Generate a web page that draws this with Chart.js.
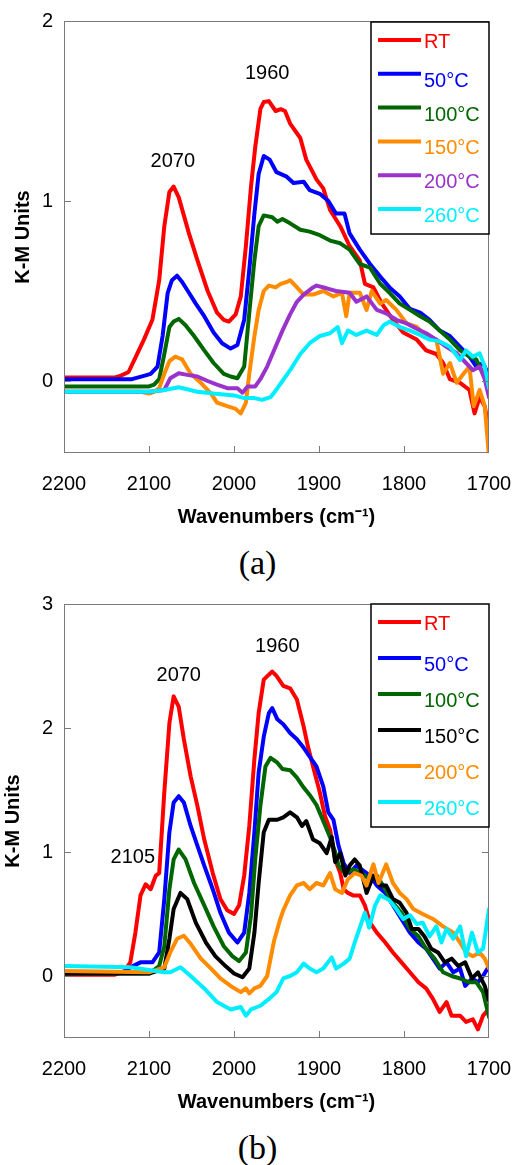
<!DOCTYPE html>
<html>
<head>
<meta charset="utf-8">
<title>K-M spectra</title>
<script src="https://cdn.jsdelivr.net/npm/chart.js@4.4.0/dist/chart.umd.min.js"></script>
<style>
  body { margin: 0; background: #fff; width: 515px; height: 1165px; position: relative; overflow: hidden; }
  .panel { position: absolute; left: 0; width: 515px; height: 540px; }
  .caption {
    position: absolute; left: 0; width: 515px; text-align: center;
    font-family: 'Liberation Serif', 'Times New Roman', serif; font-size: 34px; line-height: 40px; color: #000;
  }
</style>
</head>
<body>
<div class="panel" style="top:0"><canvas id="chartA" width="515" height="540"></canvas></div>
<div class="caption" style="top:543px">(a)</div>
<div class="panel" style="top:585px"><canvas id="chartB" width="515" height="540"></canvas></div>
<div class="caption" style="top:1128px">(b)</div>

<script>
/* ===============================
   DATA  ([wavenumber, K-M value])
================================= */
const xTicks = [2200, 2100, 2000, 1900, 1800, 1700];
const yTicksA = [0, 1, 2];
const yTicksB = [0, 1, 2, 3];

const labelsA = ['RT', '50°C', '100°C', '150°C', '200°C', '260°C'];
const labelsB = ['RT', '50°C', '100°C', '150°C', '200°C', '260°C'];

// panel (a)
const rtA = [[2200,0.02],[2160,0.02],[2140,0.02],[2133,0.03],[2124,0.05],[2116,0.13],[2106,0.23],[2096,0.34],[2088,0.56],[2082,0.86],[2076,1.05],[2071,1.08],[2065,1.02],[2053,0.82],[2043,0.67],[2031,0.50],[2020,0.38],[2012,0.34],[2006,0.33],[1998,0.37],[1992,0.47],[1986,0.75],[1980,1.08],[1975,1.30],[1969,1.51],[1965,1.55],[1959,1.555],[1951,1.50],[1945,1.51],[1940,1.50],[1934,1.43],[1922,1.35],[1915,1.23],[1903,1.12],[1895,1.07],[1887,0.95],[1875,0.86],[1864,0.75],[1852,0.67],[1846,0.54],[1836,0.52],[1826,0.43],[1813,0.34],[1801,0.27],[1785,0.23],[1774,0.17],[1762,0.15],[1754,0.10],[1746,0.01],[1734,-0.01],[1723,-0.05],[1717,-0.18],[1711,-0.09],[1705,-0.14],[1700,-0.27]];
const c50A = [[2200,0.01],[2120,0.01],[2105,0.03],[2098,0.04],[2090,0.08],[2084,0.25],[2078,0.49],[2073,0.56],[2067,0.585],[2061,0.55],[2053,0.49],[2045,0.43],[2035,0.36],[2024,0.27],[2014,0.21],[2004,0.18],[1996,0.20],[1988,0.34],[1982,0.62],[1976,0.93],[1971,1.15],[1965,1.25],[1958,1.23],[1950,1.16],[1938,1.135],[1930,1.10],[1918,1.107],[1911,1.06],[1899,1.04],[1889,1.00],[1880,0.93],[1870,0.93],[1864,0.82],[1852,0.73],[1840,0.65],[1828,0.58],[1817,0.52],[1805,0.47],[1793,0.40],[1781,0.38],[1770,0.34],[1758,0.28],[1746,0.25],[1734,0.19],[1723,0.135],[1715,0.08],[1707,0.10],[1700,0.03]];
const c100A = [[2200,-0.03],[2100,-0.03],[2094,-0.02],[2088,0.01],[2082,0.15],[2076,0.30],[2071,0.33],[2065,0.345],[2057,0.31],[2047,0.25],[2035,0.17],[2024,0.10],[2012,0.04],[2004,0.025],[1996,0.015],[1988,0.08],[1982,0.38],[1976,0.67],[1971,0.86],[1965,0.92],[1955,0.91],[1949,0.885],[1943,0.90],[1934,0.876],[1922,0.84],[1911,0.83],[1899,0.81],[1887,0.78],[1875,0.765],[1864,0.73],[1852,0.65],[1840,0.63],[1828,0.54],[1817,0.49],[1805,0.43],[1793,0.395],[1781,0.36],[1770,0.33],[1758,0.28],[1746,0.23],[1734,0.17],[1723,0.135],[1715,0.12],[1707,0.04],[1700,0.03]];
const c150A = [[2200,-0.06],[2110,-0.06],[2100,-0.07],[2094,-0.06],[2088,-0.04],[2082,0.04],[2076,0.11],[2069,0.135],[2061,0.12],[2051,0.04],[2039,-0.01],[2027,-0.07],[2020,-0.12],[2008,-0.14],[1998,-0.155],[1992,-0.18],[1986,-0.12],[1982,0.04],[1976,0.25],[1971,0.395],[1965,0.50],[1959,0.53],[1951,0.52],[1945,0.54],[1938,0.55],[1934,0.56],[1926,0.52],[1918,0.48],[1907,0.48],[1895,0.50],[1883,0.47],[1873,0.49],[1868,0.36],[1864,0.49],[1852,0.49],[1844,0.395],[1838,0.50],[1828,0.43],[1821,0.45],[1809,0.395],[1797,0.32],[1785,0.30],[1774,0.25],[1762,0.23],[1754,0.04],[1746,0.10],[1738,-0.01],[1730,0.04],[1723,0.08],[1718,-0.14],[1711,-0.05],[1705,-0.14],[1700,-0.42]];
const c200A = [[2200,-0.06],[2100,-0.06],[2082,-0.05],[2075,0.015],[2065,0.043],[2055,0.034],[2043,0.025],[2031,0.0],[2020,-0.02],[2008,-0.04],[1996,-0.04],[1990,-0.065],[1984,-0.03],[1975,-0.03],[1969,0.01],[1961,0.08],[1953,0.17],[1943,0.28],[1934,0.37],[1926,0.44],[1918,0.48],[1907,0.52],[1903,0.53],[1891,0.515],[1880,0.50],[1864,0.49],[1856,0.44],[1844,0.47],[1832,0.395],[1821,0.376],[1809,0.34],[1797,0.32],[1785,0.29],[1774,0.265],[1762,0.23],[1750,0.19],[1738,0.154],[1727,0.10],[1719,0.06],[1711,0.08],[1705,0.01],[1700,-0.09]];
const c260A = [[2200,-0.06],[2100,-0.06],[2082,-0.05],[2065,-0.035],[2043,-0.06],[2024,-0.07],[2000,-0.08],[1988,-0.095],[1976,-0.095],[1967,-0.105],[1957,-0.09],[1949,-0.04],[1943,0.0],[1934,0.06],[1922,0.15],[1911,0.21],[1899,0.25],[1887,0.265],[1878,0.30],[1873,0.21],[1866,0.28],[1856,0.256],[1844,0.28],[1832,0.256],[1824,0.31],[1817,0.33],[1805,0.30],[1793,0.28],[1781,0.256],[1770,0.23],[1758,0.22],[1746,0.19],[1734,0.117],[1727,0.17],[1719,0.135],[1711,0.154],[1705,0.08],[1700,-0.04]];

// panel (b)
const rtB = [[2200,0.01],[2140,0.01],[2129,0.04],[2122,0.11],[2116,0.35],[2110,0.65],[2104,0.74],[2098,0.70],[2092,0.81],[2088,0.83],[2082,1.48],[2076,2.04],[2071,2.255],[2065,2.17],[2059,1.91],[2051,1.61],[2043,1.37],[2035,1.10],[2025,0.83],[2016,0.62],[2008,0.53],[2000,0.50],[1994,0.57],[1988,0.81],[1982,1.21],[1976,1.75],[1971,2.12],[1965,2.39],[1959,2.43],[1955,2.455],[1950,2.42],[1942,2.34],[1934,2.32],[1926,2.23],[1918,2.01],[1913,1.85],[1907,1.69],[1899,1.48],[1893,1.29],[1887,1.18],[1881,0.94],[1875,0.83],[1871,0.70],[1866,0.67],[1860,0.65],[1852,0.65],[1846,0.57],[1840,0.43],[1832,0.35],[1822,0.27],[1813,0.19],[1803,0.11],[1793,0.03],[1783,-0.05],[1774,-0.10],[1766,-0.185],[1758,-0.29],[1750,-0.21],[1744,-0.32],[1734,-0.32],[1727,-0.37],[1719,-0.35],[1713,-0.43],[1707,-0.32],[1700,-0.265]];
const c50B = [[2200,0.03],[2130,0.03],[2122,0.07],[2110,0.11],[2096,0.11],[2088,0.19],[2082,0.62],[2076,1.16],[2071,1.40],[2065,1.45],[2059,1.40],[2051,1.21],[2043,1.05],[2035,0.89],[2025,0.70],[2016,0.51],[2006,0.35],[1996,0.27],[1988,0.35],[1982,0.67],[1976,1.16],[1971,1.64],[1965,1.93],[1959,2.12],[1955,2.16],[1949,2.07],[1942,2.03],[1934,1.96],[1926,1.91],[1918,1.84],[1911,1.77],[1903,1.69],[1895,1.53],[1889,1.32],[1883,1.26],[1877,1.05],[1871,0.91],[1864,0.83],[1856,0.89],[1848,0.85],[1840,0.81],[1832,0.73],[1822,0.67],[1813,0.57],[1803,0.46],[1793,0.35],[1783,0.27],[1774,0.22],[1766,0.14],[1758,0.06],[1750,0.11],[1742,0.03],[1734,0.06],[1728,-0.08],[1720,-0.02],[1713,-0.05],[1707,0.0],[1700,0.08]];
const c100B = [[2200,0.02],[2100,0.02],[2088,0.08],[2082,0.24],[2076,0.70],[2071,0.94],[2065,1.02],[2057,0.94],[2047,0.75],[2035,0.57],[2024,0.40],[2012,0.24],[2002,0.16],[1994,0.12],[1986,0.19],[1980,0.49],[1975,0.94],[1969,1.37],[1963,1.69],[1957,1.76],[1949,1.72],[1943,1.67],[1934,1.66],[1926,1.60],[1918,1.52],[1911,1.46],[1903,1.38],[1895,1.25],[1887,1.12],[1881,1.0],[1877,0.89],[1869,0.83],[1860,0.86],[1850,0.83],[1840,0.78],[1832,0.81],[1822,0.70],[1813,0.59],[1803,0.51],[1793,0.38],[1783,0.32],[1774,0.22],[1764,0.14],[1754,0.03],[1744,0.0],[1734,-0.02],[1724,-0.05],[1715,-0.05],[1707,-0.13],[1700,-0.33]];
const c150B = [[2200,0.02],[2100,0.02],[2082,0.06],[2076,0.30],[2071,0.54],[2063,0.67],[2055,0.62],[2045,0.43],[2033,0.27],[2022,0.16],[2010,0.08],[2000,0.02],[1990,-0.01],[1982,0.06],[1976,0.35],[1971,0.75],[1965,1.16],[1959,1.26],[1949,1.26],[1942,1.28],[1934,1.32],[1926,1.28],[1920,1.21],[1915,1.25],[1907,1.10],[1899,1.07],[1891,0.99],[1885,1.12],[1881,0.92],[1875,0.99],[1869,0.81],[1864,0.89],[1858,0.94],[1852,0.89],[1844,0.67],[1836,0.81],[1828,0.73],[1821,0.73],[1813,0.62],[1805,0.59],[1797,0.51],[1791,0.38],[1783,0.38],[1776,0.32],[1768,0.22],[1760,0.19],[1752,0.11],[1744,0.14],[1736,0.08],[1728,0.11],[1720,-0.02],[1713,0.03],[1705,-0.08],[1700,-0.2]];
const c200B = [[2200,0.04],[2100,0.03],[2082,0.07],[2075,0.19],[2067,0.30],[2059,0.325],[2051,0.26],[2039,0.14],[2027,0.06],[2016,-0.02],[2004,-0.08],[1992,-0.13],[1986,-0.10],[1982,-0.14],[1976,-0.10],[1969,-0.08],[1961,0.0],[1953,0.28],[1946,0.45],[1942,0.53],[1934,0.65],[1926,0.73],[1918,0.75],[1911,0.70],[1903,0.75],[1895,0.73],[1887,0.83],[1881,0.70],[1873,0.67],[1866,0.78],[1858,0.83],[1850,0.81],[1844,0.73],[1836,0.90],[1830,0.75],[1821,0.90],[1813,0.75],[1805,0.67],[1797,0.62],[1789,0.54],[1778,0.50],[1766,0.46],[1754,0.40],[1742,0.35],[1734,0.27],[1727,0.19],[1719,0.16],[1711,0.19],[1705,0.14],[1700,0.06]];
const c260B = [[2200,0.08],[2122,0.07],[2082,0.03],[2075,0.03],[2063,0.07],[2051,0.0],[2035,-0.10],[2020,-0.21],[2004,-0.27],[1992,-0.25],[1986,-0.32],[1980,-0.27],[1969,-0.24],[1958,-0.18],[1950,-0.13],[1942,-0.02],[1934,0.0],[1926,0.03],[1918,0.10],[1911,0.06],[1903,0.03],[1895,0.06],[1885,0.15],[1880,0.06],[1871,0.10],[1864,0.14],[1858,0.27],[1850,0.43],[1846,0.51],[1841,0.39],[1834,0.57],[1828,0.65],[1822,0.63],[1817,0.61],[1809,0.54],[1801,0.46],[1793,0.49],[1785,0.42],[1778,0.43],[1770,0.32],[1762,0.40],[1756,0.27],[1750,0.38],[1742,0.30],[1734,0.40],[1727,0.16],[1720,0.35],[1713,0.19],[1707,0.22],[1700,0.54]];

// peak labels: [text, wavenumber, value]
const peaksA = [['2070', 2072, 1.22], ['1960', 1961, 1.71]];
const peaksB = [['2070', 2065, 2.42], ['1960', 1949, 2.655], ['2105', 2119, 0.957]];

/* ===============================
   STYLE
================================= */
const FONT = "'Liberation Sans', Arial, sans-serif";
const colorsA = ['#ff0000', '#0000ff', '#006600', '#ff8c00', '#9933cc', '#00eeff'];
const colorsB = ['#ff0000', '#0000ff', '#006600', '#000000', '#ff8c00', '#00eeff'];

/* ===============================
   FRAME, INWARD TICKS, LEGEND, PEAK LABELS
================================= */
const panelExtras = {
    id: 'panelExtras',
    afterDatasetsDraw(chart, args, opts) {
        const ctx = chart.ctx;
        const { left, right, top, bottom } = chart.chartArea;
        const x = chart.scales.x;
        const y = chart.scales.y;

        ctx.save();
        ctx.strokeStyle = '#7a7a7a';
        ctx.lineWidth = 1;
        ctx.strokeRect(left + 0.5, top + 0.5, right - left - 1, bottom - top - 1);

        ctx.beginPath();
        y.ticks.forEach(t => {
            const py = Math.round(y.getPixelForValue(t.value)) + 0.5;
            if (py < top + 2 || py > bottom - 2) return;
            ctx.moveTo(left, py); ctx.lineTo(left + 7, py);
            ctx.moveTo(right, py); ctx.lineTo(right - 7, py);
        });
        x.ticks.forEach(t => {
            const px = Math.round(x.getPixelForValue(t.value)) + 0.5;
            if (px < left + 2 || px > right - 2) return;
            ctx.moveTo(px, bottom); ctx.lineTo(px, bottom - 7);
        });
        ctx.stroke();

        // peak labels
        ctx.fillStyle = '#000';
        ctx.font = '20px ' + FONT;
        ctx.textAlign = 'center';
        ctx.textBaseline = 'middle';
        opts.peaks.forEach(([text, wn, v]) => {
            ctx.fillText(text, x.getPixelForValue(wn), y.getPixelForValue(v));
        });

        // legend box
        const bw = 118;
        const bx = right - bw;
        const by = top + opts.legendOffset;
        const bh = opts.legendHeight;
        ctx.fillStyle = '#fff';
        ctx.fillRect(bx, by, bw, bh);
        ctx.strokeStyle = '#000';
        ctx.lineWidth = 1.5;
        ctx.strokeRect(bx, by, bw, bh);

        const step = (bh - 43) / 5;
        ctx.textAlign = 'left';
        ctx.textBaseline = 'alphabetic';
        chart.data.datasets.forEach((ds, i) => {
            const ly = by + 18 + i * step;
            ctx.strokeStyle = ds.borderColor;
            ctx.lineWidth = 4;
            ctx.beginPath();
            ctx.moveTo(bx + 7, ly);
            ctx.lineTo(bx + 50, ly);
            ctx.stroke();
            ctx.fillStyle = ds.borderColor;
            ctx.fillText(ds.label, bx + 53, ly + (ds.label.includes('°') ? 13 : 8));
        });
        ctx.restore();
    }
};

/* ===============================
   CHART BUILDER
================================= */
function makeChart(canvasId, series, labels, colors, yMin, yMax, yTicks, opts) {
    const datasets = series.map((pts, i) => ({
        label: labels[i],
        data: pts.map(([wn, v]) => ({ x: wn, y: v })),
        borderColor: colors[i],
        borderWidth: 4,
        pointRadius: 0,
        tension: 0,
        fill: false,
        borderJoinStyle: 'round',
        borderCapStyle: 'round',
        order: -i
    }));

    return new Chart(document.getElementById(canvasId), {
        type: 'line',
        data: { datasets },
        options: {
            responsive: false,
            animation: false,
            devicePixelRatio: 1,
            layout: { padding: { top: opts.top, right: 26, bottom: 0, left: 0 } },
            plugins: {
                legend: { display: false },
                tooltip: { enabled: false },
                panelExtras: opts
            },
            scales: {
                x: {
                    type: 'linear',
                    reverse: true,
                    min: 1700,
                    max: 2200,
                    afterBuildTicks: s => { s.ticks = xTicks.map(v => ({ value: v })); },
                    afterFit: s => { s.height = 87; s.paddingLeft = 0; s.paddingRight = 0; },
                    grid: { display: false, drawTicks: false },
                    border: { display: false },
                    ticks: {
                        color: '#000', font: { family: FONT, size: 20 }, padding: 19,
                        maxRotation: 0, autoSkip: false, callback: v => String(v)
                    },
                    title: {
                        display: true,
                        text: 'Wavenumbers (cm⁻¹)',
                        color: '#000',
                        font: { family: FONT, size: 20, weight: 'bold' },
                        padding: { top: 0, bottom: 11 }
                    }
                },
                y: {
                    min: yMin,
                    max: yMax,
                    afterBuildTicks: s => { s.ticks = yTicks.map(v => ({ value: v })); },
                    afterFit: s => { s.width = 64; s.paddingTop = 0; s.paddingBottom = 0; },
                    grid: { display: false, drawTicks: false },
                    border: { display: false },
                    ticks: { color: '#000', font: { family: FONT, size: 20 }, padding: 11, callback: v => String(v) },
                    title: {
                        display: true,
                        text: 'K-M Units',
                        color: '#000',
                        font: { family: FONT, size: 20, weight: 'bold' },
                        padding: { top: opts.titlePad, bottom: 0 }
                    }
                }
            }
        },
        plugins: [panelExtras]
    });
}

document.addEventListener('DOMContentLoaded', () => {
    makeChart('chartA', [rtA, c50A, c100A, c150A, c200A, c260A], labelsA, colorsA, -0.4, 2, yTicksA,
        { top: 21, titlePad: 11, legendOffset: 1, legendHeight: 212, peaks: peaksA });
    makeChart('chartB', [rtB, c50B, c100B, c150B, c200B, c260B], labelsB, colorsB, -0.5, 3, yTicksB,
        { top: 19, titlePad: 1, legendOffset: 0, legendHeight: 223, peaks: peaksB });
});
</script>
</body>
</html>
